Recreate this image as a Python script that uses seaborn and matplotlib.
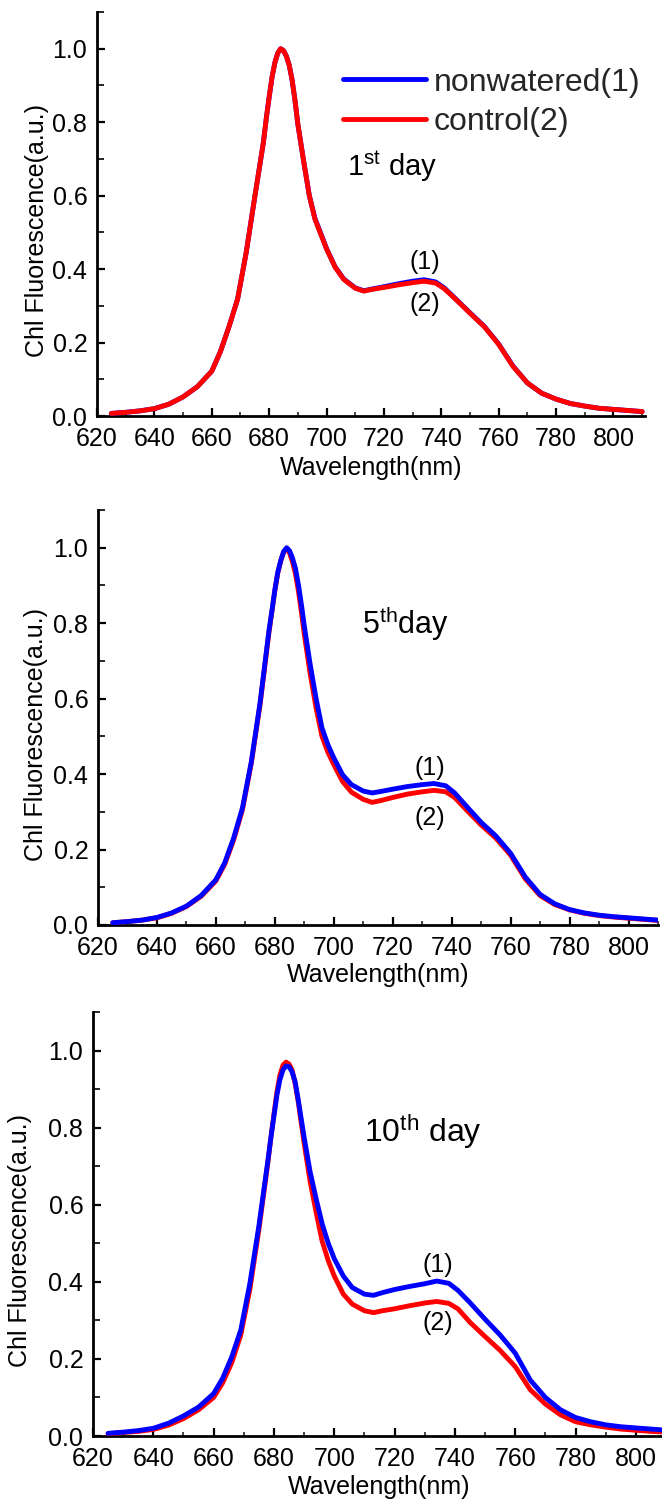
import matplotlib
matplotlib.use("Agg")
import matplotlib.pyplot as plt
from matplotlib.ticker import MultipleLocator, FormatStrFormatter
import seaborn as sns

sns.set_theme(style="ticks")
plt.rcParams["font.family"] = ["Liberation Sans", "DejaVu Sans"]
plt.rcParams["mathtext.fontset"] = "custom"
plt.rcParams["mathtext.rm"] = "Liberation Sans"
plt.rcParams["mathtext.it"] = "Liberation Sans"

NARROW = ["Liberation Sans Narrow", "Liberation Sans", "DejaVu Sans"]

# Emission wavelengths (nm)
wavelength = [625, 630, 635, 640, 645, 650, 655, 660, 663, 666, 669, 672, 675,
              678, 679, 680, 681, 682, 683, 684, 685, 686, 687, 688, 689, 690,
              692, 694, 696, 698, 700, 703, 706, 710, 713, 716, 720, 725, 730,
              734, 738, 741, 745, 750, 755, 760, 765, 770, 775, 780, 785, 790,
              795, 800, 805, 810]

# Day 1
day1_nonwatered = [0.007, 0.010, 0.014, 0.020, 0.032, 0.052, 0.080, 0.122, 0.175, 0.243,
                   0.318, 0.445, 0.597, 0.745, 0.810, 0.868, 0.922, 0.962, 0.988, 1.000,
                   0.995, 0.980, 0.955, 0.915, 0.860, 0.795, 0.695, 0.600, 0.537, 0.497,
                   0.456, 0.406, 0.373, 0.349, 0.341, 0.346, 0.352, 0.360, 0.367, 0.371,
                   0.365, 0.349, 0.319, 0.281, 0.244, 0.196, 0.136, 0.090, 0.062, 0.046,
                   0.034, 0.027, 0.021, 0.018, 0.015, 0.012]
day1_control = [0.007, 0.010, 0.014, 0.020, 0.032, 0.052, 0.080, 0.122, 0.175, 0.243,
                0.318, 0.445, 0.597, 0.745, 0.810, 0.868, 0.922, 0.962, 0.988, 1.000,
                0.995, 0.980, 0.955, 0.915, 0.860, 0.795, 0.695, 0.600, 0.535, 0.495,
                0.455, 0.405, 0.372, 0.348, 0.340, 0.345, 0.350, 0.357, 0.363, 0.367,
                0.362, 0.347, 0.318, 0.280, 0.243, 0.195, 0.135, 0.090, 0.062, 0.046,
                0.034, 0.027, 0.021, 0.018, 0.015, 0.012]

# Day 5
day5_nonwatered = [0.006, 0.009, 0.013, 0.020, 0.032, 0.050, 0.078, 0.120, 0.165, 0.230,
                   0.310, 0.432, 0.590, 0.780, 0.833, 0.888, 0.935, 0.966, 0.990, 1.000,
                   0.992, 0.972, 0.945, 0.902, 0.850, 0.792, 0.690, 0.600, 0.522, 0.478,
                   0.443, 0.398, 0.372, 0.355, 0.350, 0.354, 0.360, 0.367, 0.372, 0.375,
                   0.369, 0.350, 0.315, 0.272, 0.236, 0.190, 0.127, 0.081, 0.056, 0.041,
                   0.032, 0.026, 0.022, 0.019, 0.016, 0.013]
day5_control = [0.006, 0.009, 0.013, 0.019, 0.031, 0.049, 0.076, 0.117, 0.161, 0.225,
                0.305, 0.428, 0.585, 0.775, 0.830, 0.886, 0.933, 0.965, 0.989, 0.998,
                0.986, 0.962, 0.930, 0.885, 0.830, 0.770, 0.665, 0.575, 0.500, 0.458,
                0.425, 0.380, 0.352, 0.333, 0.325, 0.330, 0.338, 0.347, 0.353, 0.357,
                0.353, 0.338, 0.305, 0.265, 0.230, 0.185, 0.122, 0.078, 0.054, 0.040,
                0.031, 0.025, 0.021, 0.018, 0.015, 0.012]

# Day 10
day10_nonwatered = [0.007, 0.010, 0.014, 0.020, 0.033, 0.052, 0.075, 0.110, 0.150, 0.205,
                    0.275, 0.395, 0.545, 0.715, 0.775, 0.830, 0.885, 0.925, 0.950, 0.960,
                    0.958, 0.945, 0.920, 0.875, 0.825, 0.775, 0.685, 0.615, 0.550, 0.500,
                    0.460, 0.415, 0.385, 0.368, 0.365, 0.372, 0.380, 0.388, 0.395, 0.402,
                    0.396, 0.378, 0.346, 0.303, 0.262, 0.215, 0.145, 0.100, 0.068, 0.048,
                    0.037, 0.029, 0.024, 0.021, 0.018, 0.015]
day10_control = [0.006, 0.009, 0.012, 0.017, 0.028, 0.045, 0.068, 0.100, 0.138, 0.190,
                 0.262, 0.380, 0.535, 0.710, 0.775, 0.835, 0.893, 0.937, 0.962, 0.970,
                 0.965, 0.950, 0.915, 0.870, 0.815, 0.760, 0.660, 0.580, 0.505, 0.455,
                 0.415, 0.368, 0.342, 0.325, 0.320, 0.325, 0.330, 0.338, 0.345, 0.349,
                 0.344, 0.330, 0.295, 0.258, 0.222, 0.180, 0.120, 0.083, 0.055, 0.037,
                 0.029, 0.023, 0.018, 0.015, 0.012, 0.010]

series_labels = ["nonwatered(1)", "control(2)"]
day_titles = [r"1$^{\rm st}$ day", r"5$^{\rm th}$day", r"10$^{\rm th}$ day"]

BLUE = "#0000FF"
RED = "#FF0000"

W, H = 662, 1505
fig = plt.figure(figsize=(W / 100, H / 100), dpi=100)


def axes_px(left, right, top, bottom):
    return fig.add_axes([left / W, 1 - bottom / H, (right - left) / W, (bottom - top) / H])


panels = [
    dict(box=(97, 645, 12, 416), xmax=811, nonw=day1_nonwatered, ctrl=day1_control,
         blue_on_top=False, title_xy=(707, 0.68), title_size=21,
         lab1=(734.3, 0.42), lab2=(734.3, 0.305), legend=True,
         xlabel_y=-0.099, ylabel_x=-0.088),
    dict(box=(98, 658, 510, 925), xmax=810, nonw=day5_nonwatered, ctrl=day5_control,
         blue_on_top=True, title_xy=(709.5, 0.80), title_size=22,
         lab1=(732.5, 0.415), lab2=(732.5, 0.283), legend=False,
         xlabel_y=-0.092, ylabel_x=-0.09),
    dict(box=(93, 666, 1012, 1436), xmax=810, nonw=day10_nonwatered, ctrl=day10_control,
         blue_on_top=True, title_xy=(709.9, 0.79), title_size=23,
         lab1=(734.4, 0.443), lab2=(734.4, 0.292), legend=False,
         xlabel_y=-0.092, ylabel_x=-0.106),
]

for i, p in enumerate(panels):
    ax = axes_px(*p["box"])
    order = [("ctrl", RED, series_labels[1]), ("nonw", BLUE, series_labels[0])]
    if not p["blue_on_top"]:
        order = order[::-1]
    for key, color, lab in order:
        sns.lineplot(x=wavelength, y=p[key], ax=ax, color=color, lw=3.5,
                     label=lab, legend=False, solid_capstyle="round",
                     solid_joinstyle="round", zorder=3)

    ax.set_xlim(620, p["xmax"])
    ax.set_ylim(0, 1.1)
    ax.xaxis.set_major_locator(MultipleLocator(20))
    ax.xaxis.set_minor_locator(MultipleLocator(10))
    ax.yaxis.set_major_locator(MultipleLocator(0.2))
    ax.yaxis.set_minor_locator(MultipleLocator(0.1))
    ax.yaxis.set_major_formatter(FormatStrFormatter("%.1f"))
    ax.tick_params(axis="both", which="major", direction="in", length=6, width=1.6,
                   labelsize=18, colors="black")
    ax.tick_params(axis="y", which="major", pad=7)
    ax.tick_params(axis="x", which="major", pad=8)
    ax.tick_params(axis="y", which="minor", direction="in", length=5, width=1.4)
    ax.tick_params(axis="x", which="minor", direction="in", length=3, width=1.2)
    for lbl in ax.get_xticklabels() + ax.get_yticklabels():
        lbl.set_family(NARROW)
    for side in ("top", "right"):
        ax.spines[side].set_visible(False)
    for side in ("left", "bottom"):
        ax.spines[side].set_linewidth(2.0)
        ax.spines[side].set_color("black")
    ax.set_facecolor("white")

    ax.set_xlabel("Wavelength(nm)", fontsize=18, color="black")
    ax.set_ylabel("Chl Fluorescence(a.u.)", fontsize=18, color="black")
    ax.xaxis.set_label_coords(0.5, p["xlabel_y"])
    ax.yaxis.set_label_coords(p["ylabel_x"], 0.46)

    ax.text(*p["title_xy"], day_titles[i], fontsize=p["title_size"], color="black",
            ha="left", va="center")
    ax.text(*p["lab1"], "(1)", fontsize=18, ha="center", va="center", color="black")
    ax.text(*p["lab2"], "(2)", fontsize=18, ha="center", va="center", color="black")

    if p["legend"]:
        handles, labels = ax.get_legend_handles_labels()
        pairs = dict(zip(labels, handles))
        ax.legend([pairs[l] for l in series_labels], series_labels,
                  loc="upper left", bbox_to_anchor=(0.449, 0.8626), frameon=False,
                  fontsize=23, handlelength=2.6, handletextpad=0.25,
                  labelspacing=0.31, borderpad=0, borderaxespad=0)

fig.savefig("out.png", dpi=100, facecolor="white")
